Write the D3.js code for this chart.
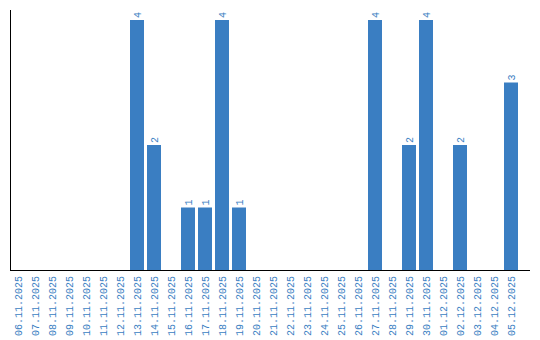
<!DOCTYPE html>
<html>
<head>
<meta charset="utf-8">
<script src="https://cdn.jsdelivr.net/npm/d3@7"></script>
<style>
  body { margin: 0; background: #fff; }
  text { font-family: "Liberation Mono", "DejaVu Sans Mono", monospace; }
</style>
</head>
<body>
<div id="chart"></div>
<script>
// dates and counts
var dates = ["06.11.2025", "07.11.2025", "08.11.2025", "09.11.2025", "10.11.2025",
  "11.11.2025", "12.11.2025", "13.11.2025", "14.11.2025", "15.11.2025",
  "16.11.2025", "17.11.2025", "18.11.2025", "19.11.2025", "20.11.2025",
  "21.11.2025", "22.11.2025", "23.11.2025", "24.11.2025", "25.11.2025",
  "26.11.2025", "27.11.2025", "28.11.2025", "29.11.2025", "30.11.2025",
  "01.12.2025", "02.12.2025", "03.12.2025", "04.12.2025", "05.12.2025"];
var counts = [0, 0, 0, 0, 0, 0, 0, 4, 2, 0, 1, 1, 4, 1, 0, 0, 0, 0, 0, 0, 0, 4, 0, 2, 4, 0, 2, 0, 0, 3];

var svgWidth = 540;
var svgHeight = 340;
var blue = "#3a7ec2";

var svg = d3.select("#chart")
  .append("svg")
  .attr("width", svgWidth)
  .attr("height", svgHeight);

var data = dates.map(function(d, i) { return { date: d, value: counts[i] }; });

// 17px step, 14px bars
var pad = 3 / 17;
var x = d3.scaleBand()
  .domain(dates)
  .range([11, 521])
  .paddingInner(pad)
  .paddingOuter(pad / 2)
  .align(0);

var y = d3.scaleLinear()
  .domain([0, 4])
  .range([270, 20]);

// axes: plain lines, no ticks
svg.append("line")
  .attr("x1", 10.5).attr("x2", 10.5)
  .attr("y1", 10).attr("y2", 270)
  .attr("stroke", "#000");

svg.append("line")
  .attr("x1", 10).attr("x2", 530)
  .attr("y1", 270.5).attr("y2", 270.5)
  .attr("stroke", "#000");

var bars = svg.selectAll(".bar")
  .data(data.filter(function(d) { return d.value > 0; }))
  .enter()
  .append("g");

bars.append("rect")
  .attr("x", function(d) { return x(d.date); })
  .attr("y", function(d) { return y(d.value); })
  .attr("width", x.bandwidth())
  .attr("height", function(d) { return y(0) - y(d.value); })
  .attr("fill", blue);

bars.append("text")
  .attr("transform", function(d) {
    return "translate(" + (x(d.date) + x.bandwidth() / 2 + 3.5) + "," + (y(d.value) - 2) + ") rotate(-90)";
  })
  .attr("text-anchor", "start")
  .attr("font-size", "10px")
  .attr("fill", blue)
  .text(function(d) { return d.value; });

// rotated date labels
svg.selectAll(".xlab")
  .data(dates)
  .enter()
  .append("text")
  .attr("class", "xlab")
  .attr("transform", function(d) {
    return "translate(" + (x(d) + x.bandwidth() / 2 + 3.5) + ",276) rotate(-90)";
  })
  .attr("text-anchor", "end")
  .attr("font-size", "10px")
  .attr("fill", blue)
  .text(function(d) { return d; });
</script>
</body>
</html>
